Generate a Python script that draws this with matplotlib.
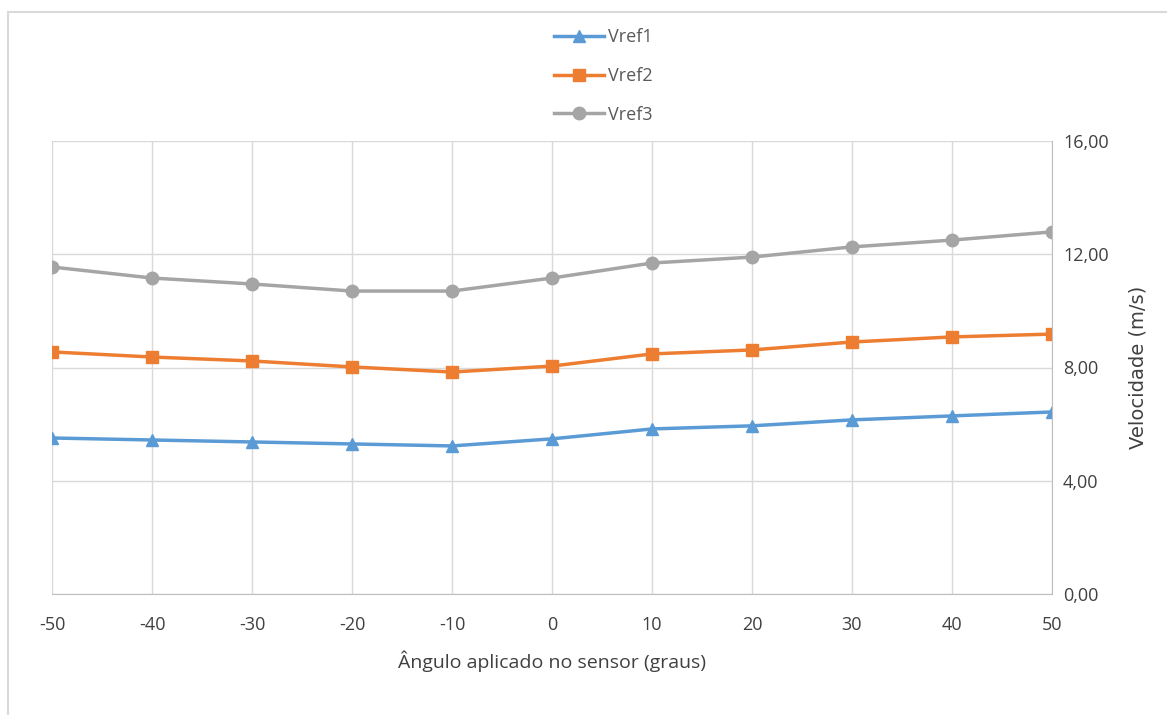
import matplotlib.pyplot as plt
from matplotlib.patches import Rectangle
from matplotlib.ticker import FuncFormatter

angles = [-50, -40, -30, -20, -10, 0, 10, 20, 30, 40, 50]
vref1 = [5.51, 5.44, 5.37, 5.30, 5.23, 5.48, 5.83, 5.94, 6.15, 6.29, 6.43]
vref2 = [8.55, 8.37, 8.23, 8.02, 7.84, 8.05, 8.48, 8.62, 8.90, 9.08, 9.18]
vref3 = [11.55, 11.16, 10.95, 10.70, 10.70, 11.16, 11.69, 11.90, 12.26, 12.50, 12.79]
yticks = [0, 4, 8, 12, 16]

plt.rcParams['font.family'] = ['Open Sans', 'DejaVu Sans']
plt.rcParams['axes.unicode_minus'] = False

W, H = 1167, 715
fig = plt.figure(figsize=(W / 100, H / 100), dpi=100)
ax = fig.add_axes([52 / W, 1 - 594 / H, 1000 / W, 453 / H])

# chart border like the spreadsheet frame
fig.patches.append(Rectangle((8 / W, -0.01), 1.1, 1 - 12 / H + 0.01, transform=fig.transFigure,
                             fill=False, edgecolor='#D9D9D9', linewidth=1.5))

ax.plot(angles, vref1, '-', color='#5B9BD5', linewidth=2.5, marker='^', markersize=9, label='Vref1')
ax.plot(angles, vref2, '-', color='#ED7D31', linewidth=2.5, marker='s', markersize=8, label='Vref2')
ax.plot(angles, vref3, '-', color='#A5A5A5', linewidth=2.5, marker='o', markersize=9, label='Vref3')

ax.set_xlim(-50, 50)
ax.set_ylim(0, 16)
ax.set_xticks(angles)
ax.set_yticks(yticks)
ax.yaxis.tick_right()
ax.yaxis.set_label_position('right')
ax.yaxis.set_major_formatter(FuncFormatter(lambda v, p: f'{v:.2f}'.replace('.', ',')))
ax.grid(True, color='#D9D9D9', linewidth=1)
ax.set_axisbelow(True)
for s in ['top', 'left']:
    ax.spines[s].set_visible(False)
ax.spines['bottom'].set_color('#BFBFBF')
ax.spines['right'].set_color('#BFBFBF')
ax.tick_params(length=0, labelsize=13, labelcolor='#404040', pad=8)
ax.tick_params(axis='x', pad=16)

ax.set_xlabel('Ângulo aplicado no sensor (graus)', fontsize=14, color='#404040', labelpad=12)
ax.set_ylabel('Velocidade (m/s)', fontsize=14, color='#404040', labelpad=14,
              family='DejaVu Sans')

fig.legend(loc='upper center', bbox_to_anchor=(603 / W, 1 - 12 / H), frameon=False,
           fontsize=13, labelcolor='#595959', handlelength=2.8, handletextpad=0.2,
           labelspacing=1.15)

fig.savefig('out.png', dpi=100)
